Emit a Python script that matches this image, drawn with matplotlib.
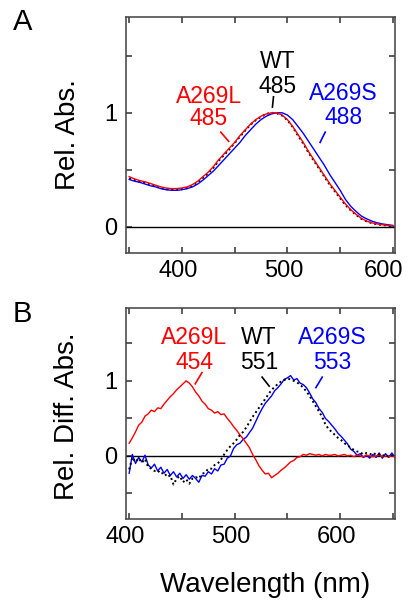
import numpy as np
import matplotlib
matplotlib.use("Agg")
import matplotlib.pyplot as plt
import matplotlib.transforms as mtransforms

plt.rcParams['font.family'] = ['Liberation Sans', 'DejaVu Sans']

# ---- Panel A: normalised absorption spectra (5 nm steps, 350-600 nm) ----
wl_a = np.arange(350, 601, 5)
wt_a = [0.425, 0.41, 0.395, 0.385, 0.37, 0.355, 0.34, 0.33, 0.325, 0.325,
        0.33, 0.34, 0.36, 0.39, 0.43, 0.47, 0.52, 0.58, 0.63, 0.68,
        0.735, 0.79, 0.845, 0.895, 0.935, 0.965, 0.99, 1.0, 0.995, 0.975,
        0.935, 0.875, 0.80, 0.73, 0.65, 0.58, 0.51, 0.44, 0.37, 0.31,
        0.25, 0.19, 0.145, 0.105, 0.07, 0.048, 0.032, 0.022, 0.015, 0.01, 0.006]
leu_a = [0.44, 0.42, 0.405, 0.395, 0.38, 0.365, 0.35, 0.34, 0.335, 0.335,
         0.34, 0.35, 0.37, 0.40, 0.44, 0.48, 0.53, 0.59, 0.64, 0.69,
         0.74, 0.80, 0.85, 0.90, 0.94, 0.97, 0.99, 1.0, 1.0, 0.98,
         0.94, 0.88, 0.81, 0.74, 0.66, 0.59, 0.52, 0.45, 0.38, 0.32,
         0.26, 0.20, 0.15, 0.11, 0.075, 0.05, 0.035, 0.025, 0.018, 0.012, 0.008]
ser_a = [0.415, 0.40, 0.39, 0.375, 0.36, 0.35, 0.335, 0.325, 0.32, 0.32,
         0.325, 0.335, 0.35, 0.375, 0.41, 0.45, 0.49, 0.54, 0.59, 0.64,
         0.69, 0.74, 0.80, 0.85, 0.90, 0.94, 0.97, 0.99, 1.0, 1.0,
         0.98, 0.94, 0.88, 0.82, 0.75, 0.68, 0.61, 0.54, 0.46, 0.39,
         0.32, 0.24, 0.18, 0.135, 0.095, 0.07, 0.05, 0.035, 0.025, 0.018, 0.012]

# ---- Panel B: normalised difference spectra (3 nm steps, 400-652 nm) ----
wl_b = np.arange(400, 653, 3)
leu_b = [0.17, 0.24, 0.32, 0.41, 0.45, 0.53, 0.56, 0.61, 0.59, 0.64,
         0.63, 0.69, 0.74, 0.79, 0.83, 0.88, 0.92, 0.96, 1.00, 0.97,
         0.92, 0.85, 0.80, 0.73, 0.69, 0.63, 0.61, 0.57, 0.59, 0.55,
         0.56, 0.50, 0.45, 0.39, 0.34, 0.28, 0.23, 0.17, 0.11, 0.02,
         -0.05, -0.13, -0.19, -0.24, -0.23, -0.29, -0.26, -0.23, -0.19, -0.16,
         -0.12, -0.08, -0.06, -0.02, -0.01, 0.02, 0.01, 0.03, 0.02, 0.01,
         0.02, 0.00, 0.02, 0.01, 0.01, 0.02, 0.00, 0.01, 0.02, 0.00,
         0.01, -0.01, 0.01, 0.00, -0.01, 0.01, 0.00, -0.01, 0.00, 0.01,
         -0.01, 0.00, -0.01, 0.00, -0.01]
ser_b = [-0.23, 0.02, -0.10, -0.02, -0.08, 0.01, -0.12, -0.16, -0.11, -0.20,
         -0.15, -0.23, -0.18, -0.26, -0.21, -0.28, -0.23, -0.30, -0.25, -0.31,
         -0.26, -0.30, -0.35, -0.26, -0.27, -0.21, -0.24, -0.17, -0.20, -0.12,
         -0.11, -0.03, 0.00, 0.10, 0.15, 0.17, 0.22, 0.25, 0.31, 0.37,
         0.46, 0.55, 0.63, 0.70, 0.75, 0.80, 0.87, 0.91, 0.96, 1.02,
         1.04, 1.07, 1.01, 1.03, 0.97, 0.95, 0.91, 0.84, 0.76, 0.71,
         0.63, 0.58, 0.50, 0.46, 0.41, 0.36, 0.30, 0.26, 0.21, 0.16,
         0.09, 0.06, 0.01, 0.03, -0.02, 0.01, -0.03, 0.02, -0.02, 0.04,
         -0.03, 0.03, -0.02, 0.04, -0.02]
wt_b = [-0.18, -0.02, -0.08, -0.03, -0.09, -0.04, -0.15, -0.17, -0.20, -0.19,
        -0.24, -0.22, -0.28, -0.26, -0.38, -0.30, -0.27, -0.35, -0.31, -0.37,
        -0.30, -0.28, -0.30, -0.24, -0.22, -0.17, -0.17, -0.12, -0.10, -0.05,
        0.02, 0.08, 0.13, 0.17, 0.22, 0.28, 0.32, 0.38, 0.45, 0.52,
        0.58, 0.64, 0.70, 0.76, 0.82, 0.88, 0.92, 0.96, 0.99, 1.01,
        1.03, 1.02, 1.00, 0.98, 0.95, 0.91, 0.86, 0.80, 0.73, 0.66,
        0.59, 0.52, 0.42, 0.36, 0.32, 0.28, 0.24, 0.21, 0.17, 0.14,
        0.11, 0.08, 0.06, 0.05, 0.02, 0.04, 0.03, 0.01, 0.04, 0.02,
        0.00, 0.02, -0.01, 0.01, 0.00]

names = ['A269L', 'WT', 'A269S']
peaks_a = ['485', '485', '488']
peaks_b = ['454', '551', '553']
colors = ['#ff0000', 'black', '#0000ff']

fig = plt.figure(figsize=(4.11, 6.05), dpi=100)
ax_a = fig.add_axes([0.3066, 0.5818, 0.6545, 0.3901])
ax_b = fig.add_axes([0.3066, 0.1421, 0.6545, 0.3488])

# panel A curves
ax_a.plot(wl_a, wt_a, color='black', lw=1.4, ls=(0, (1, 1.5)), zorder=3)
ax_a.plot(wl_a, ser_a, color=colors[2], lw=1.0, zorder=4)
ax_a.plot(wl_a, leu_a, color=colors[0], lw=1.0, zorder=5)

# panel B curves
ax_b.plot(wl_b, ser_b, color=colors[2], lw=1.0, zorder=4)
ax_b.plot(wl_b, leu_b, color=colors[0], lw=1.0, zorder=4)
ax_b.plot(wl_b, wt_b, color='black', lw=1.4, ls=(0, (1, 1.5)), zorder=5)

for ax in (ax_a, ax_b):
    ax.axhline(0, color='black', lw=1.0, zorder=2)
    for s in ax.spines.values():
        s.set_color('#404040')
        s.set_linewidth(1.1)
    ax.tick_params(direction='in', length=4, width=1.1, color='#303030',
                   top=True, right=True, labelsize=17)
    ax.tick_params(axis='x', pad=5)
    ax.tick_params(axis='y', pad=6)

ax_a.set_xlim(347, 602)
ax_a.set_ylim(-0.23, 1.84)
ax_a.set_xticks([350, 400, 450, 500, 550, 600])
ax_a.set_xticklabels(['', '400', '', '500', '', '600'])
ax_a.set_yticks([0, 0.5, 1, 1.5])
ax_a.set_yticklabels(['0', '', '1', ''])

ax_b.set_xlim(397, 652)
ax_b.set_ylim(-0.84, 1.97)
ax_b.set_xticks([400, 450, 500, 550, 600, 650])
ax_b.set_xticklabels(['400', '', '500', '', '600', ''])
ax_b.set_yticks([-0.5, 0, 0.5, 1, 1.5])
ax_b.set_yticklabels(['', '0', '', '1', ''])

# x tick labels sit slightly left of their ticks in the original
for ax in (ax_a, ax_b):
    for lab in ax.get_xticklabels():
        dx = -3.5
        if ax is ax_a and lab.get_text() == '600':
            dx = -9
        off = mtransforms.ScaledTranslation(dx / 100, 0, fig.dpi_scale_trans)
        lab.set_transform(lab.get_transform() + off)

# annotations: (x, y_name, y_peak) and pointer segments
lab_a = [(425.5, 1.145, 0.947), (490.6, 1.45, 1.23), (552.8, 1.17, 0.96)]
seg_a = [((436.8, 444.3), (0.83, 0.75)), ((486.8, 485.8), (1.14, 1.05)),
         ((535.8, 531.0), (0.83, 0.74))]
lab_b = [(461.8, 1.573, 1.247), (523.2, 1.573, 1.247), (592.9, 1.573, 1.247)]
seg_b = [((469.0, 462.6), (1.11, 0.96)), ((526.0, 532.7), (1.05, 0.93)),
         ((583.0, 577.0), (1.05, 0.91))]

for ax, labs, segs, peaks in ((ax_a, lab_a, seg_a, peaks_a),
                              (ax_b, lab_b, seg_b, peaks_b)):
    for name, pk, c, (x, y1, y2), (sx, sy) in zip(names, peaks, colors, labs, segs):
        ax.text(x, y1, name, color=c, fontsize=16.5, ha='center', va='center')
        ax.text(x, y2, pk, color=c, fontsize=16.5, ha='center', va='center')
        ax.plot(sx, sy, color=c, lw=1.2)

fig.text(0.1655, 0.777, 'Rel. Abs.', rotation=90, fontsize=20,
         ha='center', va='center')
fig.text(0.164, 0.3116, 'Rel. Diff. Abs.', rotation=90, fontsize=20,
         ha='center', va='center')
fig.text(0.645, 0.033, 'Wavelength (nm)', fontsize=20, ha='center', va='center')
fig.text(0.056, 0.964, 'A', fontsize=21, ha='center', va='center')
fig.text(0.0535, 0.481, 'B', fontsize=21, ha='center', va='center')

fig.savefig('out.png', dpi=100)
